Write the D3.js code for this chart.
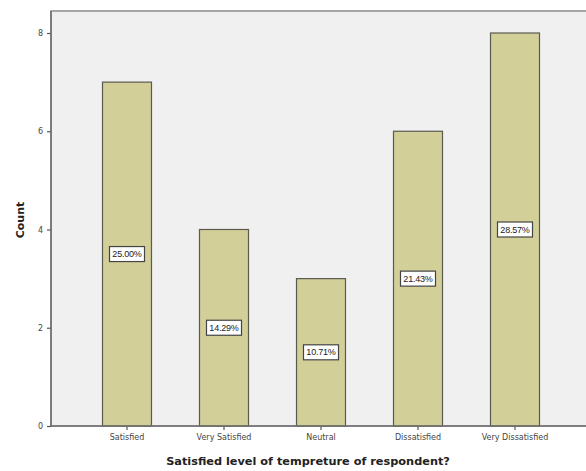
<!DOCTYPE html>
<html>
<head>
<meta charset="utf-8">
<script src="https://cdn.jsdelivr.net/npm/d3@7"></script>
<style>
  html, body { margin: 0; padding: 0; background: #fff; }
  svg { display: block; font-family: Arial, "Liberation Sans", sans-serif; }
</style>
</head>
<body>
<svg id="chart" width="586" height="471"></svg>
<script>
// Satisfaction with temperature: respondent counts per category
const categories = ["Satisfied", "Very Satisfied", "Neutral", "Dissatisfied", "Very Dissatisfied"];
const counts = [7, 4, 3, 6, 8];
const percentLabels = ["25.00%", "14.29%", "10.71%", "21.43%", "28.57%"];
const yTicks = [0, 2, 4, 6, 8];

const svg = d3.select("#chart");
const frame = { left: 51, top: 11, right: 600, bottom: 426 };

const x = d3.scaleBand()
  .domain(categories)
  .range([78.5, 563.5])
  .paddingInner(0.495)
  .paddingOuter(0.2475);

const y = d3.scaleLinear().domain([0, 8]).range([426, 33]);

// plot background
svg.append("rect")
  .attr("x", frame.left).attr("y", frame.top)
  .attr("width", frame.right - frame.left)
  .attr("height", frame.bottom - frame.top)
  .attr("fill", "#f0f0f0")
  .attr("stroke", "#8c8c8c")
  .attr("stroke-width", 1.5);

// bars
svg.append("g").selectAll("rect")
  .data(categories)
  .join("rect")
  .attr("x", d => x(d))
  .attr("y", (d, i) => y(counts[i]))
  .attr("width", x.bandwidth())
  .attr("height", (d, i) => y(0) - y(counts[i]))
  .attr("fill", "#d3cf98")
  .attr("stroke", "#5a5a50")
  .attr("stroke-width", 1.2);

// percentage labels centred on each bar
const lab = svg.append("g").selectAll("g")
  .data(categories)
  .join("g")
  .attr("transform", (d, i) => `translate(${x(d) + x.bandwidth() / 2},${y(counts[i] / 2)})`);
lab.append("rect")
  .attr("x", -17.5).attr("y", -7.5)
  .attr("width", 35).attr("height", 15)
  .attr("fill", "#fff")
  .attr("stroke", "#444")
  .attr("stroke-width", 1.2);
lab.append("text")
  .attr("text-anchor", "middle")
  .attr("dy", "0.35em")
  .attr("font-size", 9)
  .attr("letter-spacing", "-0.2")
  .attr("fill", "#222")
  .text((d, i) => percentLabels[i]);

// y axis
const yAxis = svg.append("g")
  .attr("transform", `translate(${frame.left},0)`)
  .call(d3.axisLeft(y).tickValues(yTicks).tickSize(4).tickPadding(4));
yAxis.select(".domain").remove();
yAxis.selectAll("line").attr("stroke", "#555").attr("stroke-width", 1.2);
yAxis.selectAll("text").attr("font-size", 8).attr("fill", "#444").attr("font-family", "'DejaVu Sans', sans-serif");

// x axis
const xAxis = svg.append("g")
  .attr("transform", `translate(0,${frame.bottom})`)
  .call(d3.axisBottom(x).tickSize(4).tickPadding(4));
xAxis.select(".domain").remove();
xAxis.selectAll("line").attr("stroke", "#555").attr("stroke-width", 1.2);
xAxis.selectAll("text").attr("font-size", 8).attr("fill", "#444").attr("font-family", "'DejaVu Sans', sans-serif");

// axis lines
svg.append("line")
  .attr("x1", frame.left).attr("x2", frame.left)
  .attr("y1", frame.top).attr("y2", frame.bottom)
  .attr("stroke", "#707070").attr("stroke-width", 1.6);
svg.append("line")
  .attr("x1", frame.left).attr("x2", frame.right)
  .attr("y1", frame.bottom).attr("y2", frame.bottom)
  .attr("stroke", "#707070").attr("stroke-width", 1.6);

// axis titles
svg.append("text")
  .attr("x", 308).attr("y", 465)
  .attr("text-anchor", "middle")
  .attr("font-family", "'DejaVu Sans', sans-serif")
  .attr("font-size", 11.3).attr("font-weight", "bold").attr("fill", "#222")
  .text("Satisfied level of tempreture of respondent?");
svg.append("text")
  .attr("transform", "translate(24,220) rotate(-90)")
  .attr("text-anchor", "middle")
  .attr("font-family", "'DejaVu Sans', sans-serif")
  .attr("font-size", 11).attr("font-weight", "bold").attr("fill", "#222")
  .text("Count");
</script>
</body>
</html>
